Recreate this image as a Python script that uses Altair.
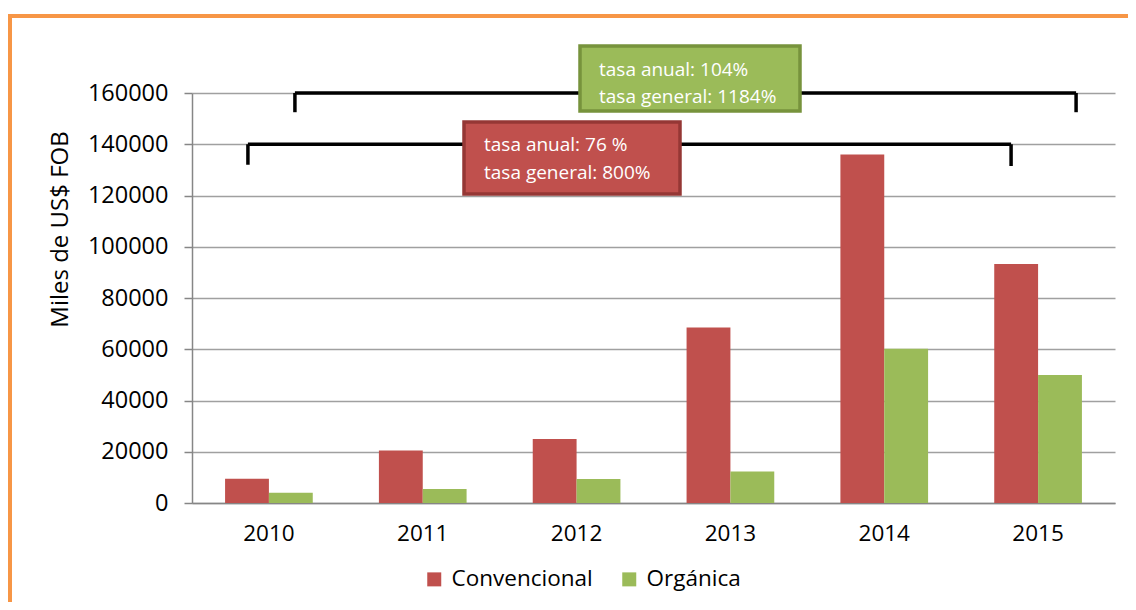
import altair as alt
import pandas as pd

years = ["2010", "2011", "2012", "2013", "2014", "2015"]
convencional = [9500, 20500, 25000, 68500, 136000, 93300]
organica = [4000, 5500, 9400, 12300, 60200, 50000]
series = ["Convencional", "Orgánica"]
colors = ["#C0504D", "#9BBB59"]

green_lines = ["tasa anual: 104%", "tasa general: 1184%"]
red_lines = ["tasa anual: 76 %", "tasa general: 800%"]

FONT = "Open Sans"

rows = []
for y, c, o in zip(years, convencional, organica):
    rows.append({"Año": y, "Serie": series[0], "Valor": c})
    rows.append({"Año": y, "Serie": series[1], "Valor": o})
df = pd.DataFrame(rows)

x_enc = alt.X(
    "Año:N",
    title=None,
    scale=alt.Scale(domain=years, paddingInner=0.43, paddingOuter=0.215),
    axis=alt.Axis(
        labelAngle=0, labelFontSize=22.5, labelColor="#000000", labelPadding=19,
        ticks=False, domainColor="#868686", domainWidth=1.5, grid=False,
    ),
)
y_enc = alt.Y(
    "Valor:Q",
    title="Miles de US$ FOB",
    scale=alt.Scale(domain=[0, 160000], nice=False),
    axis=alt.Axis(
        values=[0, 20000, 40000, 60000, 80000, 100000, 120000, 140000, 160000],
        format="d", labelFontSize=23.5, labelColor="#000000", labelPadding=16,
        tickSize=8, tickColor="#868686", tickWidth=1.5,
        domainColor="#868686", domainWidth=1.5,
        gridColor="#A0A0A0", gridWidth=1.5,
        titleFontSize=24, titleFontWeight="normal", titleColor="#000000",
        titleX=-132, titleY=136, titleBaseline="middle",
    ),
)

bars = alt.Chart(df).mark_bar().encode(
    x=x_enc,
    y=y_enc,
    xOffset=alt.XOffset("Serie:N", sort=series),
    color=alt.Color(
        "Serie:N",
        scale=alt.Scale(domain=series, range=colors),
        legend=alt.Legend(
            title=None, orient="none", direction="horizontal",
            legendX=231, legendY=475, symbolType="square", symbolSize=196,
            symbolStrokeWidth=0, labelFontSize=22.5, labelColor="#000000",
            labelOffset=6, columnPadding=25, padding=0,
        ),
    ),
)

# bracket segments (in data coordinates through the scales)
def hseg(y0, y1, val, off0, off1):
    d = pd.DataFrame({"Año": [y0], "Año2": [y1], "Valor": [val]})
    return alt.Chart(d).mark_rule(
        color="#000000", strokeWidth=3.5, xOffset=off0, x2Offset=off1
    ).encode(x=alt.X("Año:N"), x2="Año2:N", y="Valor:Q")

def vseg(yr, top, bottom, off):
    d = pd.DataFrame({"Año": [yr], "Valor": [top], "Valor2": [bottom]})
    return alt.Chart(d).mark_rule(
        color="#000000", strokeWidth=3.5, xOffset=off
    ).encode(x=alt.X("Año:N"), y="Valor:Q", y2="Valor2:Q")

brackets = [
    hseg("2010", "2015", 160000, 26, 38),
    vseg("2010", 160000, 152500, 26),
    vseg("2015", 160000, 152500, 38),
    hseg("2010", "2015", 140000, -21, -27),
    vseg("2010", 140000, 132000, -21),
    vseg("2015", 140000, 131500, -27),
]

one = pd.DataFrame({"k": [0]})

def box(x0, x1, y0, y1, fill, stroke):
    return alt.Chart(one).mark_rect(fill=fill, stroke=stroke, strokeWidth=3.5).encode(
        x=alt.value(x0), x2=alt.value(x1), y=alt.value(y0), y2=alt.value(y1)
    )

def label(txt, x, y):
    return alt.Chart(one).mark_text(
        text=txt, align="left", baseline="middle", color="#FFFFFF", fontSize=19, font=FONT
    ).encode(x=alt.value(x), y=alt.value(y))

boxes = [
    box(388, 608, -47, 18, "#9BBB59", "#77933C"),
    label(green_lines[0], 407, -23),
    label(green_lines[1], 407, 4),
    box(272, 488, 29, 101, "#C0504D", "#953735"),
    label(red_lines[0], 292, 52),
    label(red_lines[1], 292, 80),
]

border = [
    alt.Chart(one).mark_rule(color="#F79646", strokeWidth=4).encode(
        x=alt.value(-182), y=alt.value(-79), y2=alt.value(515)
    ),
    alt.Chart(one).mark_rule(color="#F79646", strokeWidth=4).encode(
        x=alt.value(-184), x2=alt.value(940), y=alt.value(-77)
    ),
]

chart = alt.layer(bars, *brackets, *boxes, *border).properties(
    width=923, height=410,
    autosize=alt.AutoSizeParams(type="none"),
    padding={"left": 184, "top": 85, "right": 13, "bottom": 99},
    background="#FFFFFF",
).configure(font=FONT).configure_view(stroke=None)

chart.save("out.html", embed_options={"renderer": "svg", "actions": False})
